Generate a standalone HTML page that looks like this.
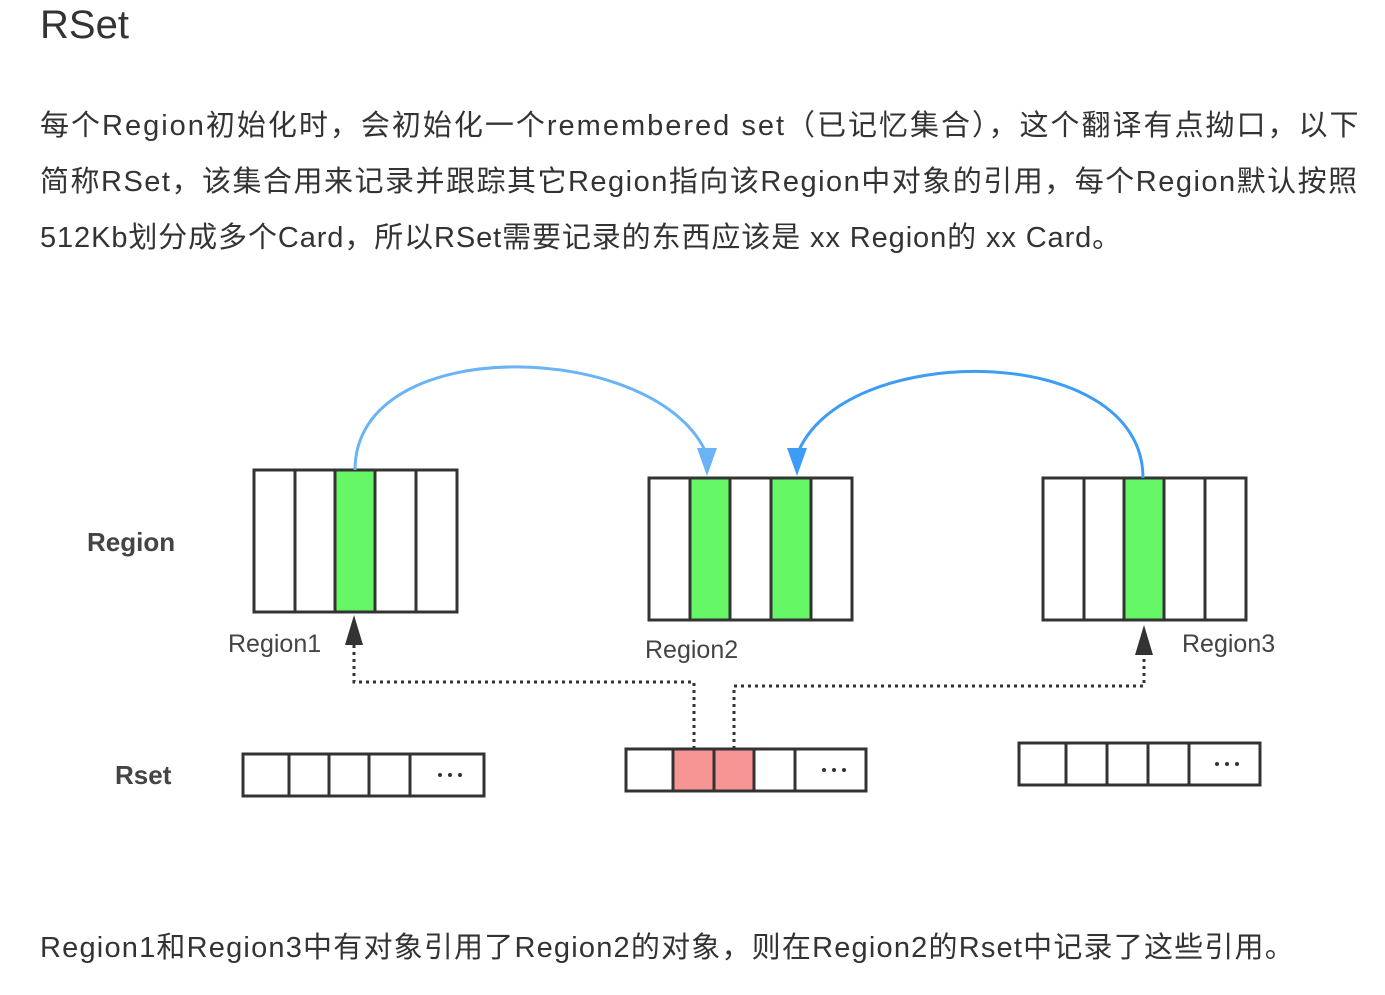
<!DOCTYPE html>
<html><head><meta charset="utf-8"><style>
body{margin:0;background:#fff;width:1385px;height:995px;overflow:hidden;font-family:"Liberation Sans","Noto Sans CJK SC",sans-serif;color:#333;}
.t{position:absolute;left:40px;white-space:nowrap;font-size:29px;}
</style></head><body>
<div class="t" style="top:3px;font-size:40px;color:#333;">RSet</div>
<div class="t" style="top:102px;letter-spacing:2px;">每个Region初始化时，会初始化一个remembered set（已记忆集合），这个翻译有点拗口，以下</div>
<div class="t" style="top:158px;letter-spacing:1.5px;">简称RSet，该集合用来记录并跟踪其它Region指向该Region中对象的引用，每个Region默认按照</div>
<div class="t" style="top:214px;letter-spacing:0.9px;">512Kb划分成多个Card，所以RSet需要记录的东西应该是 xx Region的 xx Card。</div>
<div class="t" style="top:924px;letter-spacing:1.2px;">Region1和Region3中有对象引用了Region2的对象，则在Region2的Rset中记录了这些引用。</div>
<svg style="position:absolute;left:0;top:0" width="1385" height="995">
<g stroke="#333" stroke-width="3" fill="#fff">
<rect x="254" y="470" width="203" height="142"/>
<rect x="335" y="470" width="40" height="142" fill="#66f766"/>
<line x1="295" y1="470" x2="295" y2="612"/><line x1="416" y1="470" x2="416" y2="612"/>
<rect x="649" y="478" width="203" height="142"/>
<rect x="690" y="478" width="40" height="142" fill="#66f766"/>
<rect x="771" y="478" width="40" height="142" fill="#66f766"/>
<rect x="1043" y="478" width="203" height="142"/>
<rect x="1124" y="478" width="40" height="142" fill="#66f766"/>
<line x1="1084" y1="478" x2="1084" y2="620"/><line x1="1205" y1="478" x2="1205" y2="620"/>
<rect x="243" y="754" width="241" height="42"/>
<line x1="289" y1="754" x2="289" y2="796"/><line x1="329" y1="754" x2="329" y2="796"/><line x1="369" y1="754" x2="369" y2="796"/><line x1="410" y1="754" x2="410" y2="796"/>
<rect x="626" y="749" width="240" height="42"/>
<rect x="673" y="749" width="81" height="42" fill="#f79494"/>
<line x1="714" y1="749" x2="714" y2="791"/><line x1="795" y1="749" x2="795" y2="791"/>
<rect x="1019" y="743" width="241" height="42"/>
<line x1="1066" y1="743" x2="1066" y2="785"/><line x1="1107" y1="743" x2="1107" y2="785"/><line x1="1148" y1="743" x2="1148" y2="785"/><line x1="1189" y1="743" x2="1189" y2="785"/>
</g>
<g fill="#333">
<circle cx="440" cy="775" r="2"/><circle cx="450" cy="775" r="2"/><circle cx="460" cy="775" r="2"/>
<circle cx="824" cy="770" r="2"/><circle cx="834" cy="770" r="2"/><circle cx="844" cy="770" r="2"/>
<circle cx="1217" cy="764" r="2"/><circle cx="1227" cy="764" r="2"/><circle cx="1237" cy="764" r="2"/>
</g>
<g fill="none" stroke-width="3">
<path d="M355 470 C355 330 660 340 707 455" stroke="#6ab4f5"/>
<path d="M1143 478 C1143 340 840 340 797 455" stroke="#3d9cf5"/>
</g>
<polygon points="697,448 717,448 707,476" fill="#6ab4f5"/>
<polygon points="787,448 807,448 797,476" fill="#3d9cf5"/>
<g fill="none" stroke="#333" stroke-width="3" stroke-dasharray="3 4">
<path d="M694 749 V682 H354 V640"/>
<path d="M734 749 V686 H1144 V650"/>
</g>
<polygon points="345,645 363,645 354,615" fill="#333"/>
<polygon points="1135,655 1153,655 1144,625" fill="#333"/>
<g font-family="Liberation Sans,sans-serif" fill="#444">
<text x="87" y="551" font-size="26" font-weight="bold">Region</text>
<text x="115" y="784" font-size="26" font-weight="bold">Rset</text>
<text x="228" y="652" font-size="25">Region1</text>
<text x="645" y="658" font-size="25">Region2</text>
<text x="1182" y="652" font-size="25">Region3</text>
</g>
</svg>
</body></html>
